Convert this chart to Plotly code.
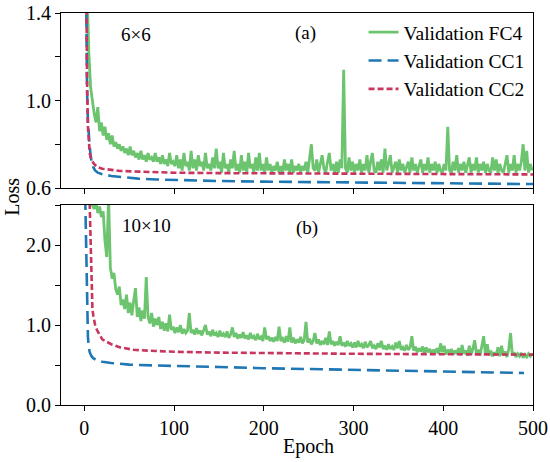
import plotly.graph_objects as go
from plotly.subplots import make_subplots

# epochs for the noisy FC4 curves (every other epoch)
epoch_fc = list(range(1, 500, 2))

# (a) 6x6
fc4_a = [
    1.80, 1.45, 1.22, 1.06, 0.99, 0.94, 0.90, 0.97, 0.86, 0.90,
    0.84, 0.88, 0.82, 0.85, 0.80, 0.84, 0.79, 0.81, 0.78, 0.80,
    0.77, 0.79, 0.76, 0.78, 0.75, 0.79, 0.75, 0.77, 0.74, 0.76,
    0.73, 0.77, 0.73, 0.75, 0.72, 0.76, 0.73, 0.74, 0.72, 0.76,
    0.72, 0.74, 0.71, 0.75, 0.71, 0.73, 0.70, 0.76, 0.71, 0.72,
    0.70, 0.75, 0.69, 0.73, 0.68, 0.76, 0.70, 0.72, 0.68, 0.77,
    0.69, 0.73, 0.68, 0.75, 0.70, 0.72, 0.68, 0.76, 0.69, 0.71,
    0.68, 0.74, 0.69, 0.78, 0.69, 0.72, 0.67, 0.76, 0.69, 0.71,
    0.67, 0.73, 0.69, 0.77, 0.68, 0.71, 0.67, 0.75, 0.68, 0.72,
    0.67, 0.76, 0.69, 0.71, 0.67, 0.74, 0.68, 0.76, 0.68, 0.71,
    0.67, 0.74, 0.68, 0.71, 0.67, 0.70, 0.68, 0.72, 0.67, 0.70,
    0.67, 0.73, 0.68, 0.71, 0.67, 0.73, 0.67, 0.70, 0.68, 0.71,
    0.67, 0.70, 0.68, 0.72, 0.67, 0.73, 0.80, 0.69, 0.68, 0.73,
    0.67, 0.71, 0.75, 0.69, 0.67, 0.72, 0.76, 0.68, 0.71, 0.67,
    0.72, 0.67, 0.73, 0.69, 1.14, 0.69, 0.67, 0.74, 0.68, 0.72,
    0.67, 0.71, 0.68, 0.73, 0.67, 0.71, 0.68, 0.75, 0.67, 0.72,
    0.76, 0.68, 0.67, 0.72, 0.68, 0.73, 0.67, 0.78, 0.68, 0.71,
    0.75, 0.67, 0.70, 0.72, 0.67, 0.73, 0.68, 0.71, 0.67, 0.70,
    0.72, 0.67, 0.74, 0.68, 0.71, 0.67, 0.70, 0.73, 0.67, 0.71,
    0.68, 0.74, 0.67, 0.71, 0.68, 0.72, 0.67, 0.71, 0.68, 0.67,
    0.71, 0.68, 0.88, 0.68, 0.67, 0.72, 0.68, 0.75, 0.67, 0.71,
    0.68, 0.72, 0.67, 0.71, 0.74, 0.67, 0.71, 0.68, 0.74, 0.67,
    0.71, 0.68, 0.72, 0.67, 0.71, 0.68, 0.67, 0.74, 0.68, 0.73,
    0.67, 0.71, 0.68, 0.67, 0.72, 0.75, 0.67, 0.71, 0.68, 0.75,
    0.67, 0.71, 0.68, 0.72, 0.80, 0.68, 0.77, 0.67, 0.71, 0.68,
]

epoch_cc_a = [1, 2, 3, 4, 5, 6, 7, 8, 10, 12, 15, 20, 30, 40, 60, 80, 100,
              150, 200, 250, 300, 350, 400, 450, 500]
cc1_a = [2.00, 1.35, 1.05, 0.90, 0.83, 0.79, 0.75, 0.72, 0.695, 0.68, 0.67,
         0.663, 0.655, 0.650, 0.643, 0.639, 0.636, 0.632, 0.629, 0.627,
         0.625, 0.624, 0.622, 0.620, 0.618]
cc2_a = [2.20, 1.35, 1.10, 0.88, 0.79, 0.76, 0.74, 0.73, 0.715, 0.705, 0.695,
         0.688, 0.682, 0.678, 0.675, 0.672, 0.670, 0.668, 0.667, 0.666,
         0.665, 0.665, 0.664, 0.663, 0.662]

# (b) 10x10
fc4_b = [
    4.00, 3.40, 2.90, 2.65, 2.50, 2.45, 2.55, 2.40, 2.48, 2.35,
    2.42, 2.05, 1.85, 2.60, 1.72, 1.58, 1.65, 1.45, 1.38, 1.48,
    1.25, 1.32, 1.20, 1.38, 1.15, 1.28, 1.12, 1.30, 1.46, 1.10,
    1.22, 1.05, 1.18, 1.08, 1.60, 1.10, 1.02, 1.15, 0.98, 1.08,
    1.00, 1.10, 0.95, 1.04, 0.93, 1.02, 0.92, 1.13, 0.94, 0.98,
    0.90, 0.97, 0.91, 1.00, 0.89, 0.95, 0.90, 0.93, 1.15, 0.90,
    0.94, 0.88, 0.96, 0.89, 0.93, 0.87, 0.95, 1.00, 0.88, 0.92,
    0.86, 0.94, 0.87, 0.90, 0.85, 0.93, 0.86, 0.89, 0.85, 0.92,
    0.84, 0.88, 0.97, 0.85, 0.90, 0.83, 0.88, 0.84, 0.91, 0.83,
    0.87, 0.82, 0.90, 0.83, 0.86, 0.81, 0.89, 0.82, 0.85, 0.80,
    0.97, 0.82, 0.86, 0.80, 0.84, 0.79, 0.85, 0.80, 0.98, 0.80,
    0.83, 0.78, 0.86, 0.79, 0.97, 0.78, 0.84, 0.77, 0.82, 0.78,
    0.85, 0.77, 0.81, 1.04, 0.78, 0.83, 0.76, 0.80, 0.90, 0.77,
    0.82, 0.75, 0.80, 0.76, 0.84, 0.75, 0.92, 0.76, 0.80, 0.74,
    0.79, 0.75, 0.86, 0.74, 0.78, 0.73, 0.80, 0.74, 0.77, 0.72,
    0.78, 0.72, 0.80, 0.73, 0.76, 0.71, 0.79, 0.72, 0.75, 0.80,
    0.71, 0.74, 0.70, 0.77, 0.72, 0.80, 0.70, 0.74, 0.69, 0.76,
    0.70, 0.73, 0.69, 0.78, 0.71, 0.80, 0.69, 0.72, 0.68, 0.75,
    0.69, 0.72, 0.86, 0.68, 0.73, 0.66, 0.71, 0.67, 0.73, 0.65,
    0.72, 0.66, 0.70, 0.64, 0.69, 0.65, 0.71, 0.64, 0.77, 0.66,
    0.74, 0.63, 0.69, 0.65, 0.70, 0.63, 0.68, 0.64, 0.71, 0.62,
    0.75, 0.64, 0.68, 0.62, 0.74, 0.63, 0.70, 0.81, 0.64, 0.69,
    0.62, 0.72, 0.86, 0.63, 0.76, 0.62, 0.68, 0.61, 0.66, 0.62,
    0.72, 0.61, 0.74, 0.62, 0.67, 0.60, 0.70, 0.90, 0.62, 0.66,
    0.60, 0.64, 0.61, 0.65, 0.59, 0.63, 0.60, 0.64, 0.61, 0.64,
]

epoch_cc1_b = [1, 2, 3, 4, 5, 6, 8, 10, 13, 20, 30, 50, 75, 100, 150, 200,
               250, 300, 350, 400, 450, 490]
cc1_b = [2.60, 1.80, 1.20, 0.85, 0.72, 0.66, 0.61, 0.585, 0.565, 0.54,
         0.525, 0.505, 0.495, 0.49, 0.475, 0.46, 0.45, 0.44, 0.43, 0.42,
         0.41, 0.40]
epoch_cc2_b = [1, 3, 5, 6, 7, 8, 9, 10, 12, 14, 17, 20, 25, 30, 40, 55, 70,
               100, 150, 200, 250, 300, 350, 400, 450, 500]
cc2_b = [5.00, 3.50, 2.80, 2.50, 2.00, 1.35, 1.20, 1.12, 1.00, 0.94, 0.87,
         0.82, 0.79, 0.76, 0.72, 0.69, 0.68, 0.665, 0.655, 0.648, 0.645,
         0.640, 0.637, 0.635, 0.632, 0.630]

GREEN = '#6cc46e'
BLUE = '#1f77b4'
RED = '#c8365f'
FONT = 'Liberation Serif'

fig = make_subplots(rows=2, cols=1, shared_xaxes=True,
                    row_heights=[175, 200], vertical_spacing=17 / 392)

panels = [
    (1, fc4_a, epoch_cc_a, cc1_a, epoch_cc_a, cc2_a),
    (2, fc4_b, epoch_cc1_b, cc1_b, epoch_cc2_b, cc2_b),
]
for row, fc4, e1, cc1, e2, cc2 in panels:
    first = row == 1
    fig.add_trace(go.Scatter(
        x=epoch_fc, y=fc4, mode='lines', name='Validation FC4',
        legendgroup='fc4', showlegend=first,
        line=dict(color=GREEN, width=2.8),
    ), row=row, col=1)
    fig.add_trace(go.Scatter(
        x=e1, y=cc1, mode='lines', name='Validation CC1',
        legendgroup='cc1', showlegend=first,
        line=dict(color=BLUE, width=2.6, dash='13px,6px'),
    ), row=row, col=1)
    fig.add_trace(go.Scatter(
        x=e2, y=cc2, mode='lines', name='Validation CC2',
        legendgroup='cc2', showlegend=first,
        line=dict(color=RED, width=2.6, dash='6px,3px'),
    ), row=row, col=1)

axis_style = dict(
    showline=True, linecolor='black', linewidth=1.2, mirror=True,
    ticks='outside', ticklen=5, tickwidth=1.2, tickcolor='black',
    showgrid=False, zeroline=False, automargin=False,
    tickfont=dict(family=FONT, size=20, color='black'),
)

fig.update_xaxes(axis_style, range=[-26, 500], dtick=100, tick0=0)
fig.update_xaxes(showticklabels=False, row=1, col=1)
fig.update_yaxes(axis_style)
fig.update_yaxes(range=[0.6, 1.4], tick0=0.6, dtick=0.4, tickformat='.1f',
                 minor=dict(ticks='outside', dtick=0.2, ticklen=5,
                            tickcolor='black', tickwidth=1.2),
                 row=1, col=1)
fig.update_yaxes(range=[0, 2.5], tick0=0, dtick=1.0, tickformat='.1f',
                 minor=dict(ticks='outside', dtick=0.5, ticklen=5,
                            tickcolor='black', tickwidth=1.2),
                 row=2, col=1)

fig.update_layout(yaxis=dict(domain=[217 / 392, 1]),
                  yaxis2=dict(domain=[0, 200 / 392]))

ann_font = dict(family=FONT, size=19, color='black')
labels = [
    ('6×6', 0.159, 0.946),
    ('(a)', 0.519, 0.949),
    ('10×10', 0.182, 0.457),
    ('(b)', 0.521, 0.452),
]
for text, x, y in labels:
    fig.add_annotation(text=text, x=x, y=y, xref='paper', yref='paper',
                       xanchor='center', yanchor='middle',
                       showarrow=False, font=ann_font)

label_font = dict(family=FONT, size=20, color='black')
fig.add_annotation(text='Loss', x=-0.104, y=0.531, xref='paper', yref='paper',
                   xanchor='center', yanchor='middle',
                   textangle=-90, showarrow=False, font=label_font)
fig.add_annotation(text='Epoch', x=0.525, y=-0.107, xref='paper', yref='paper',
                   xanchor='center', yanchor='middle',
                   showarrow=False, font=label_font)

fig.update_layout(
    width=550, height=462,
    margin=dict(l=61, r=17, t=13, b=57, autoexpand=False),
    plot_bgcolor='white', paper_bgcolor='white',
    font=dict(family=FONT, color='black'),
    legend=dict(x=0.641, y=1.0, xanchor='left', yanchor='top',
                bgcolor='rgba(0,0,0,0)', traceorder='grouped',
                tracegroupgap=0,
                font=dict(family=FONT, size=19.5, color='black')),
)

# drop the browser's default 8px body margin so the figure sits at 0,0
fig.write_html('out.html', config={'displayModeBar': False},
               post_script="document.body.style.margin = '0';")
